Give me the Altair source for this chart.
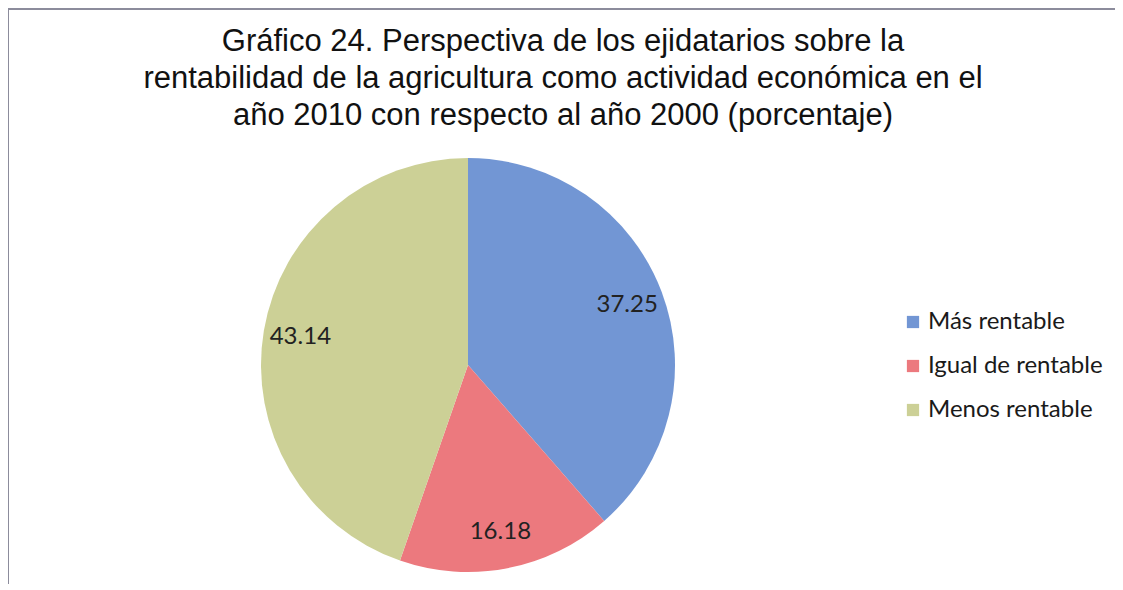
import altair as alt
import pandas as pd

categories = ["Más rentable", "Igual de rentable", "Menos rentable"]
values = [37.25, 16.18, 43.14]
colors = ["#7296d4", "#ec797e", "#ccd096"]
title_lines = [
    "Gráfico 24. Perspectiva de los ejidatarios sobre la",
    "rentabilidad de la agricultura como actividad económica en el",
    "año 2010 con respecto al año 2000 (porcentaje)",
]

df = pd.DataFrame({
    "categoria": categories,
    "valor": values,
    "orden": list(range(len(categories))),
    "etiqueta": [f"{v:.2f}" for v in values],
})

W, H = 1107, 576
CX, CY = 460, 357

base = alt.Chart(df).encode(
    theta=alt.Theta("valor:Q", stack=True),
    order=alt.Order("orden:Q"),
    x=alt.value(CX),
    y=alt.value(CY),
)

pie = base.mark_arc(outerRadius=207).encode(
    color=alt.Color(
        "categoria:N",
        scale=alt.Scale(domain=categories, range=colors),
        sort=categories,
        legend=alt.Legend(
            title=None,
            orient="none",
            legendX=893,
            legendY=302,
            symbolType="square",
            symbolSize=150,
            symbolStrokeWidth=0,
            labelFont="Lato",
            labelFontSize=24,
            labelColor="#1a1a1a",
            labelOffset=3,
            labelLimit=400,
            rowPadding=20,
            padding=0,
        ),
    )
)

labels = base.mark_text(radius=170, font="Lato", fontSize=24, color="#222222").encode(
    text="etiqueta:N"
)

title_df = pd.DataFrame({"t": ["\n".join(title_lines)]})
title = alt.Chart(title_df).mark_text(
    font="Liberation Sans", fontSize=31, lineHeight=37, align="center",
    baseline="alphabetic", color="#111111", lineBreak="\n",
).encode(text="t:N", x=alt.value(555), y=alt.value(43))

frame_df = pd.DataFrame({"a": [0]})
left_line = alt.Chart(frame_df).mark_rule(color="#8c8c9c", strokeWidth=2).encode(
    x=alt.value(0), y=alt.value(1), y2=alt.value(H)
)
top_line = alt.Chart(frame_df).mark_rule(color="#8c8c9c", strokeWidth=2).encode(
    y=alt.value(1), x=alt.value(0), x2=alt.value(W)
)

chart = alt.layer(pie, labels, title, left_line, top_line).properties(
    width=W, height=H,
    autosize=alt.AutoSizeParams(type="none"),
    padding=0,
    background="white",
).configure_view(stroke=None)

chart.save("out.html", embed_options={"renderer": "svg", "actions": False})
